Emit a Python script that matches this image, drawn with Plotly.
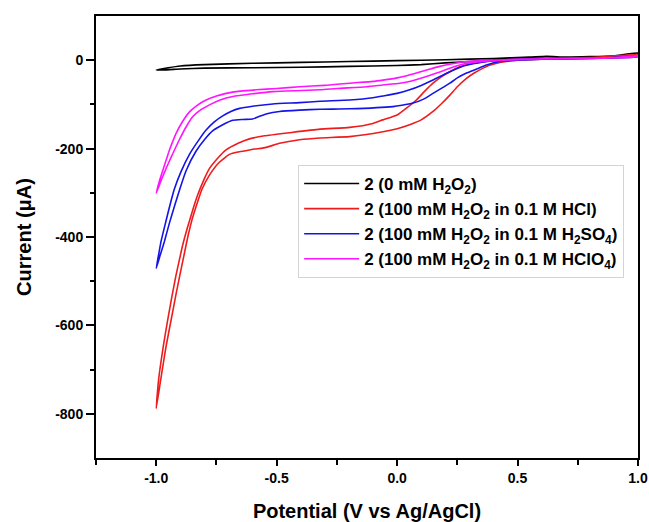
import plotly.graph_objects as go

# ---------------- data ----------------
series_names = [
    "2 (0 mM H<sub>2</sub>O<sub>2</sub>)",
    "2 (100 mM H<sub>2</sub>O<sub>2</sub> in 0.1 M HCl)",
    "2 (100 mM H<sub>2</sub>O<sub>2</sub> in 0.1 M H<sub>2</sub>SO<sub>4</sub>)",
    "2 (100 mM H<sub>2</sub>O<sub>2</sub> in 0.1 M HClO<sub>4</sub>)",
]
series_colors = ["#000000", "#ee1c1c", "#1414e6", "#ff14ff"]

# black: 0 mM H2O2
black_fwd_x = [-1.0, -0.95, -0.9, -0.8, -0.6, -0.4, -0.2, 0.0, 0.2, 0.4, 0.55, 0.62, 0.7, 0.8, 0.9, 1.0]
black_fwd_y = [-22, -17, -13, -10, -7, -5, -3, -1, 1, 4, 7, 9, 7, 8, 10, 16]
black_rev_x = [1.0, 0.9, 0.7, 0.5, 0.4, 0.3, 0.2, 0.1, 0.0, -0.2, -0.4, -0.6, -0.8, -0.9, -0.97, -1.0]
black_rev_y = [10, 7, 5, 3, 0, -3, -6, -10, -12, -14, -16, -17, -18, -20, -22, -22]

# red: HCl
red_fwd_x = [-1.0, -0.99, -0.97, -0.953, -0.935, -0.918, -0.9, -0.89, -0.87, -0.849, -0.83, -0.80,
             -0.78, -0.745, -0.71, -0.66, -0.613, -0.55, -0.447, -0.32, -0.197, -0.1, -0.059, 0.0,
             0.04, 0.08, 0.115, 0.149, 0.185, 0.219, 0.26, 0.316, 0.4, 0.5, 0.6, 0.8, 1.0]
red_fwd_y = [-788, -722, -645, -590, -535, -487, -442, -418, -378, -340, -308, -268,
             -246, -222, -203, -188, -178, -171, -164, -156, -152, -143, -135, -124,
             -108, -90, -70, -52, -37, -26, -15, -7, -1, 2, 4, 6, 12]
red_rev_x = [1.0, 0.8, 0.6, 0.5, 0.427, 0.38, 0.357, 0.32, 0.288, 0.25, 0.219, 0.185, 0.149, 0.1,
             0.052, 0.0, -0.059, -0.197, -0.32, -0.405, -0.488, -0.53, -0.558, -0.59, -0.613,
             -0.654, -0.696, -0.74, -0.779, -0.81, -0.828, -0.85, -0.869, -0.885, -0.901, -0.918,
             -0.939, -0.96, -0.98, -1.0]
red_rev_y = [9, 4, 2, 0, -5, -12, -18, -29, -41, -60, -79, -98, -116, -135,
             -146, -155, -162, -173, -176, -180, -188, -195, -199, -201, -203,
             -207, -213, -232, -260, -292, -320, -358, -400, -442, -484, -530,
             -590, -650, -718, -788]

# blue: H2SO4
blue_fwd_x = [-1.0, -0.99, -0.98, -0.96, -0.945, -0.925, -0.897, -0.862, -0.82, -0.793, -0.76, -0.724,
              -0.69, -0.654, -0.6, -0.516, -0.405, -0.32, -0.197, -0.1, -0.059, 0.0, 0.052, 0.1,
              0.149, 0.185, 0.219, 0.27, 0.316, 0.4, 0.5, 0.7, 0.9, 1.0]
blue_fwd_y = [-471, -440, -410, -365, -332, -292, -252, -213, -178, -158, -140, -126,
              -116, -109, -104, -99, -96, -93, -90, -85, -81, -75, -67, -57,
              -45, -35, -26, -14, -8, -1, 2, 4, 6, 10]
blue_rev_x = [1.0, 0.8, 0.6, 0.5, 0.427, 0.371, 0.33, 0.288, 0.25, 0.219, 0.18, 0.149, 0.11, 0.066,
              0.02, -0.017, -0.197, -0.32, -0.405, -0.488, -0.54, -0.571, -0.6, -0.64, -0.682,
              -0.72, -0.766, -0.80, -0.835, -0.876, -0.9, -0.924, -0.945, -0.966, -0.984, -1.0]
blue_rev_y = [8, 4, 2, 0, -3, -11, -20, -29, -40, -52, -65, -75, -88, -97,
              -102, -105, -110, -111, -113, -116, -121, -127, -133, -134, -136,
              -145, -160, -180, -206, -250, -288, -330, -368, -410, -442, -471]

# magenta: HClO4
mag_fwd_x = [-1.0, -0.985, -0.966, -0.945, -0.93, -0.918, -0.89, -0.862, -0.83, -0.793, -0.75, -0.71,
             -0.65, -0.585, -0.5, -0.405, -0.3, -0.197, -0.1, -0.059, 0.0, 0.04, 0.08, 0.13, 0.177,
             0.23, 0.288, 0.4, 0.5, 0.7, 0.9, 1.0]
mag_fwd_y = [-301, -270, -238, -203, -182, -166, -138, -117, -102, -90, -81, -75,
             -70, -67, -64, -60, -57, -52, -48, -45, -40, -35, -29, -21, -14,
             -8, -3, 0, 2, 4, 6, 10]
mag_rev_x = [1.0, 0.8, 0.6, 0.5, 0.4, 0.314, 0.26, 0.219, 0.17, 0.122, 0.06, 0.011, -0.06, -0.128,
             -0.25, -0.32, -0.516, -0.6, -0.682, -0.735, -0.779, -0.82, -0.849, -0.875, -0.904,
             -0.93, -0.955, -0.978, -1.0]
mag_rev_y = [8, 4, 3, 1, -1, -5, -11, -18, -28, -37, -47, -52, -56, -60,
             -64, -67, -71, -76, -82, -90, -101, -114, -128, -150, -180,
             -210, -240, -270, -301]

x_tick_vals = [-1.0, -0.5, 0.0, 0.5, 1.0]
x_tick_text = ["-1.0", "-0.5", "0.0", "0.5", "1.0"]
x_minor_vals = [-1.25, -0.75, -0.25, 0.25, 0.75]
y_tick_vals = [0, -200, -400, -600, -800]
y_tick_text = ["0", "-200", "-400", "-600", "-800"]
y_minor_vals = [-100, -300, -500, -700]

# ---------------- figure ----------------
loops = [
    (black_fwd_x + black_rev_x, black_fwd_y + black_rev_y),
    (red_fwd_x + red_rev_x, red_fwd_y + red_rev_y),
    (blue_fwd_x + blue_rev_x, blue_fwd_y + blue_rev_y),
    (mag_fwd_x + mag_rev_x, mag_fwd_y + mag_rev_y),
]

FONT = "Liberation Sans, Arial, sans-serif"


def bold(s):
    return "<b>" + s + "</b>"


fig = go.Figure()
for (lx, ly), name, color in zip(loops, series_names, series_colors):
    fig.add_trace(go.Scatter(
        x=lx, y=ly, mode="lines", name=bold(name),
        line=dict(color=color, width=1.6, shape="spline", smoothing=0.5),
    ))

fig.update_layout(
    width=649, height=522,
    margin=dict(l=96, r=11, t=16, b=64),
    paper_bgcolor="white", plot_bgcolor="white",
    font=dict(family=FONT, color="black"),
    showlegend=True,
    legend=dict(
        x=0.373, y=0.663, xanchor="left", yanchor="top",
        bgcolor="white", bordercolor="#d4d4d4", borderwidth=1,
        font=dict(family=FONT, size=17, color="black"),
        itemwidth=55, tracegroupgap=0,
    ),
)

fig.update_xaxes(
    range=[-1.25, 1.0], automargin=False,
    tickmode="array", tickvals=x_tick_vals, ticktext=[bold(t) for t in x_tick_text],
    ticks="outside", ticklen=6, tickwidth=2, tickcolor="black",
    tickfont=dict(family=FONT, size=14, color="black"),
    minor=dict(tickmode="array", tickvals=x_minor_vals, ticks="outside",
               ticklen=5, tickwidth=2, tickcolor="black"),
    showline=True, linewidth=2, linecolor="black", mirror=True,
    showgrid=False, zeroline=False,
    title=dict(text=bold("Potential (V vs Ag/AgCl)"), standoff=20,
               font=dict(family=FONT, size=20, color="black")),
)
fig.update_yaxes(
    range=[-900, 100], automargin=False,
    tickmode="array", tickvals=y_tick_vals, ticktext=[bold(t) for t in y_tick_text],
    ticks="outside", ticklen=8, tickwidth=2, tickcolor="black",
    tickfont=dict(family=FONT, size=14, color="black"),
    minor=dict(tickmode="array", tickvals=y_minor_vals, ticks="outside",
               ticklen=4, tickwidth=2, tickcolor="black"),
    showline=True, linewidth=2, linecolor="black", mirror=True,
    showgrid=False, zeroline=False,
    title=dict(text=bold("Current (μA)"), standoff=18,
               font=dict(family=FONT, size=20, color="black")),
)

# remove the default page margin so the 649x522 figure fills the window exactly
fig.write_html(
    "out.html",
    config={"displayModeBar": False},
    post_script="document.body.style.margin='0';document.body.style.overflow='hidden';",
)
